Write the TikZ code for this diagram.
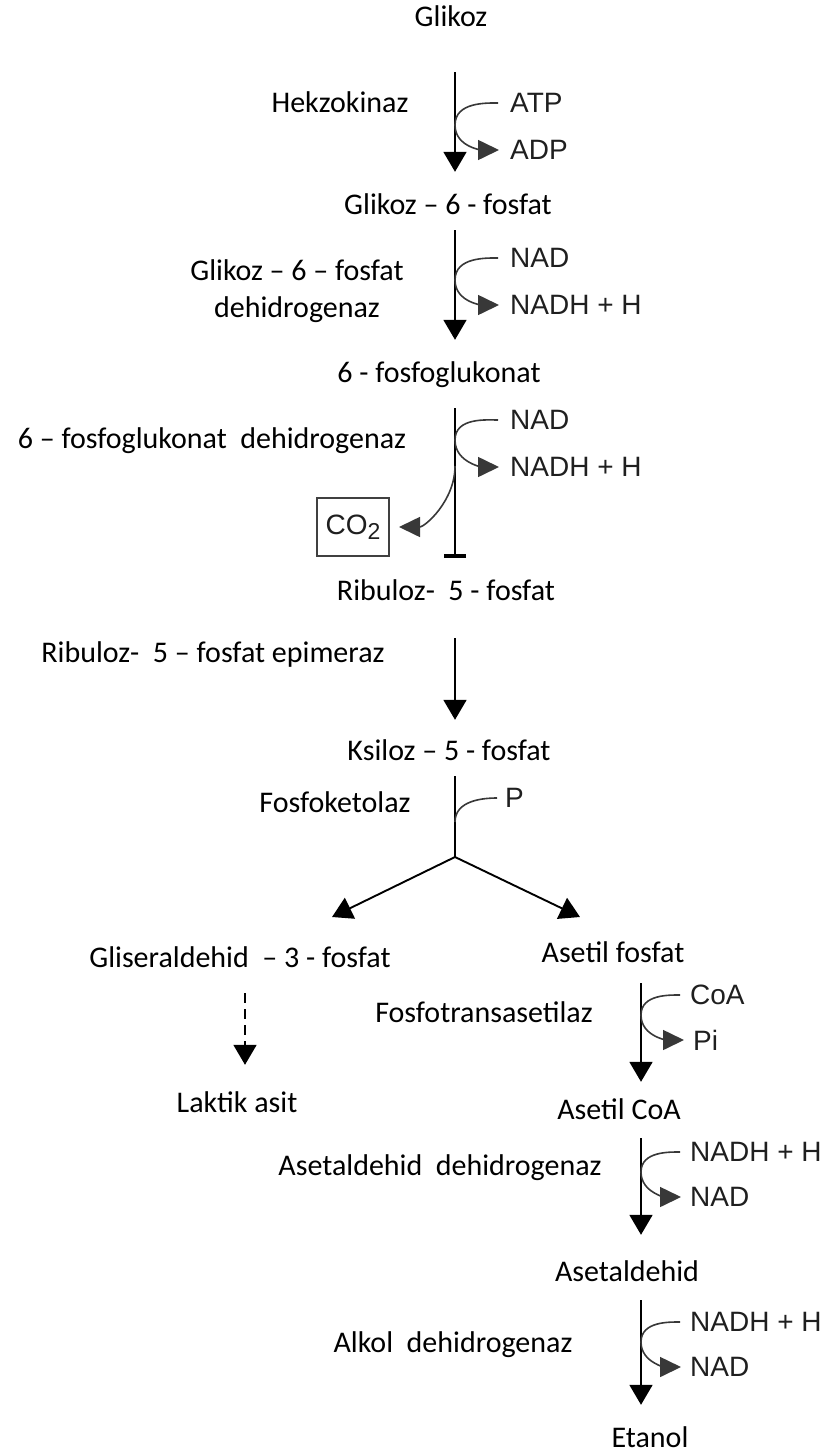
\documentclass[tikz,border=0pt]{standalone}
\usepackage{fontspec}
\setmainfont{Carlito}
\newfontfamily\cofont{Liberation Sans}
\usetikzlibrary{arrows.meta}
\tikzset{
x=1pt, y=-1pt, % one unit is one pixel of the reference, y runs down
every node/.style={inner sep=0pt, font=\fontsize{30}{37}\selectfont},
met/.style={text height=20pt, text depth=6pt}, % metabolites and enzymes on one line
cof/.style={anchor=west, text=black!88, font=\cofont\fontsize{28}{32}\selectfont}, % ATP, NAD ...
mainarrow/.style={-{Triangle[length=20pt,width=23pt]}, line width=1.9pt},
sidearrow/.style={-{Triangle[length=21pt,width=20pt]}, line width=1.6pt, draw=black!78},
}

\begin{document}
\begin{tikzpicture}
\useasboundingbox (0,0) rectangle (827,1456);
% main chain
\node[met] (glc) at (451,20) {Glikoz};
\node[met] (g6p) at (448,207) {Glikoz -- 6 - fosfat};
\node[met] (pg) at (439,375) {6 - fosfoglukonat};
\node[met] (ru5p) at (446,593) {Ribuloz- \ 5 - fosfat};
\node[met] (xu5p) at (449,753) {Ksiloz -- 5 - fosfat};
\node[met] (gap) at (240,960) {Gliseraldehid \ -- 3 - fosfat};
\node[met] (acp) at (613,955) {Asetil fosfat};
\node[met] (lac) at (237,1105) {Laktik asit};
\node[met] (acoa) at (619,1112) {Asetil CoA};
\node[met] (ald) at (627,1274) {Asetaldehid};
\node[met] (eth) at (650,1440) {Etanol};
% enzymes
\node[met] (hk) at (340,105) {Hekzokinaz};
\node[align=center] (gpdh) at (297,291) {Glikoz -- 6 -- fosfat\\dehidrogenaz};
\node[met] (pgdh) at (212,441) {6 -- fosfoglukonat \ dehidrogenaz};
\node[met] (epi) at (213,655) {Ribuloz- \ 5 -- fosfat epimeraz};
\node[met] (pk) at (335,805) {Fosfoketolaz};
\node[met] (pta) at (484,1015) {Fosfotransasetilaz};
\node[met] (aldh) at (440,1168) {Asetaldehid \ dehidrogenaz};
\node[met] (adh) at (453,1345) {Alkol \ dehidrogenaz};
% cofactors
\node[cof] (atp) at (510,103) {ATP};
\node[cof] (adp) at (510,150) {ADP};
\node[cof] (nad1) at (510,258) {NAD};
\node[cof] (nadh1) at (510,305) {NADH + H};
\node[cof] (nad2) at (510,420) {NAD};
\node[cof] (nadh2) at (510,467) {NADH + H};
\node[cof] (pho) at (505,798) {P};
\node[cof] (coa) at (690,995) {CoA};
\node[cof] (pi) at (693,1040) {Pi};
\node[cof] (nadh3) at (690,1152) {NADH + H};
\node[cof] (nad3) at (690,1197) {NAD};
\node[cof] (nadh4) at (690,1322) {NADH + H};
\node[cof] (nad4) at (690,1367) {NAD};
\node[draw=black!75, line width=2pt, minimum width=72pt, minimum height=58pt,
      text=black!88, font=\cofont\fontsize{28}{32}\selectfont]
      (co2) at (353,527) {CO\raisebox{-0.35ex}{\fontsize{23}{23}\selectfont 2}};
% junctions on the arrows
\coordinate (j1) at (455,125);
\coordinate (j2) at (455,280);
\coordinate (j3) at (455,440);
\coordinate (j3b) at (455,466);
\coordinate (j4) at (455,700);
\coordinate (j5) at (455,822);
\coordinate (fork) at (455,857);
\coordinate (lt) at (332,917);
\coordinate (rt) at (580,917);
\coordinate (j6) at (245,1030);
\coordinate (j7) at (641,1015);
\coordinate (j8) at (641,1172);
\coordinate (j9) at (641,1342);

\draw[mainarrow, shorten <=39pt, shorten >=22pt] (glc.south -| j1) -- (g6p.north -| j1);
\draw[mainarrow, shorten <=10pt, shorten >=22pt] (g6p.south -| j2) -- (pg.north -| j2);
\draw[-{Bar[width=22pt,line width=4pt]}, line width=1.9pt, shorten <=20pt, shorten >=22pt]
      (pg.south -| j3) -- (ru5p.north -| j3);
\draw[mainarrow, shorten <=32pt, shorten >=20pt] (ru5p.south -| j4) -- (xu5p.north -| j4);
\draw[line width=1.9pt, shorten <=10pt] (xu5p.south -| fork) -- (fork);
\draw[mainarrow] (fork) -- (lt);
\draw[mainarrow] (fork) -- (rt);
\draw[mainarrow, dash pattern=on 10pt off 6pt, shorten <=20pt, shorten >=27pt]
      (gap.south -| j6) -- (lac.north -| j6);
\draw[mainarrow, shorten <=15pt, shorten >=17pt] (acp.south -| j7) -- (acoa.north -| j7);
\draw[mainarrow, shorten <=13pt, shorten >=26pt] (acoa.south -| j8) -- (ald.north -| j8);
\draw[mainarrow, shorten <=13pt, shorten >=22pt] (ald.south -| j9) -- (eth.north -| j9);

% side reactions
\draw[sidearrow, shorten <=12pt, shorten >=11pt] (atp.west) to[out=180,in=90] (j1) to[out=-90,in=180] (adp.west);
\draw[sidearrow, shorten <=12pt, shorten >=11pt] (nad1.west) to[out=180,in=90] (j2) to[out=-90,in=180] (nadh1.west);
\draw[sidearrow, shorten <=12pt, shorten >=11pt] (nad2.west) to[out=180,in=90] (j3) to[out=-90,in=180] (nadh2.west);
\draw[sidearrow, shorten >=9pt] (j3b) to[out=-90,in=0] (co2.east);
\draw[line width=1.6pt, draw=black!78, shorten <=8pt] (pho.west) to[out=180,in=90] (j5);
\draw[sidearrow, shorten <=10pt, shorten >=9pt] (coa.west) to[out=180,in=90] (j7) to[out=-90,in=180] (pi.west);
\draw[sidearrow, shorten <=10pt, shorten >=9pt] (nadh3.west) to[out=180,in=90] (j8) to[out=-90,in=180] (nad3.west);
\draw[sidearrow, shorten <=10pt, shorten >=9pt] (nadh4.west) to[out=180,in=90] (j9) to[out=-90,in=180] (nad4.west);
\end{tikzpicture}
\end{document}
